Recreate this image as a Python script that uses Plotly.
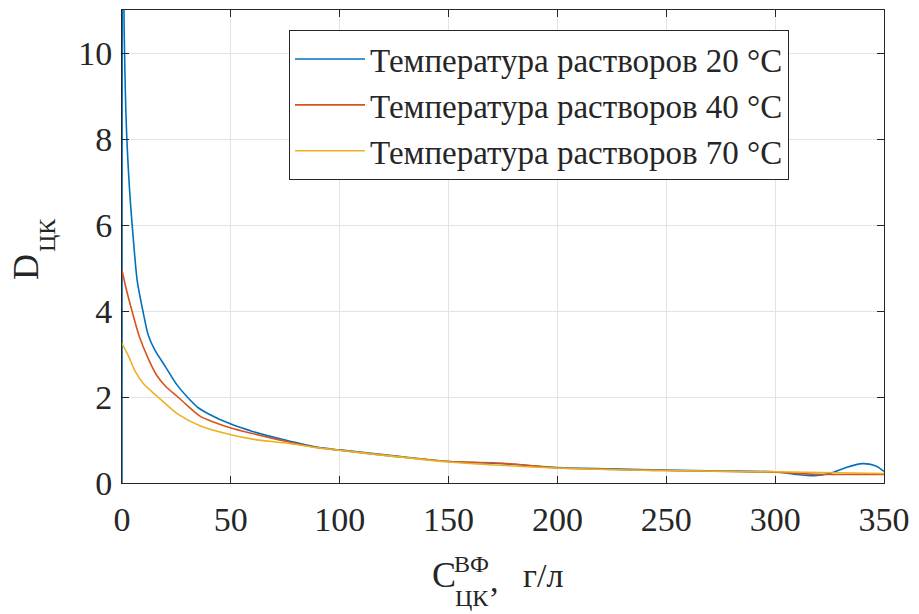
import plotly.graph_objects as go

# --- data ---
x_20 = [0, 0.3, 1, 2, 3.5, 5, 7, 9.6, 12, 15, 20, 25, 30, 35, 40, 50, 60, 75, 90, 100,
        125, 150, 175, 200, 225, 250, 275, 300, 310, 318, 325, 332, 340, 346, 350]
y_20 = [0, 14, 10.5, 8.3, 6.8, 5.8, 4.7, 4.0, 3.45, 3.1, 2.7, 2.3, 2.0, 1.75, 1.6, 1.37, 1.2,
        1.0, 0.83, 0.77, 0.63, 0.5, 0.45, 0.36, 0.33, 0.3, 0.28, 0.26, 0.2, 0.17, 0.22, 0.35,
        0.45, 0.4, 0.27]

x_40 = [0, 2, 4.6, 8, 12, 16, 20, 25.7, 30, 36, 42, 50, 60, 75, 90, 100, 125, 150, 170,
        185, 200, 250, 300, 320, 335, 350]
y_40 = [4.95, 4.5, 4.0, 3.4, 2.9, 2.5, 2.25, 2.0, 1.8, 1.55, 1.42, 1.28, 1.15, 0.97, 0.82,
        0.76, 0.62, 0.5, 0.47, 0.42, 0.35, 0.29, 0.25, 0.2, 0.2, 0.2]

x_70 = [0, 3, 6, 10, 16.5, 25.7, 35.8, 50, 60, 75, 90, 100, 125, 150, 200, 250, 300, 350]
y_70 = [3.25, 2.95, 2.6, 2.3, 2.0, 1.6, 1.33, 1.12, 1.02, 0.93, 0.82, 0.76, 0.62, 0.49,
        0.35, 0.29, 0.26, 0.22]

names = ["Температура растворов 20 °C", "Температура растворов 40 °C",
         "Температура растворов 70 °C"]
colors = ["#0072BD", "#D95319", "#EDB120"]

x_ticks = [0, 50, 100, 150, 200, 250, 300, 350]
y_ticks = [0, 2, 4, 6, 8, 10]

FONT = "Liberation Serif"
TXT = "#262626"

fig = go.Figure()
for xs, ys, nm, c in zip([x_20, x_40, x_70], [y_20, y_40, y_70], names, colors):
    fig.add_trace(go.Scatter(x=xs, y=ys, mode="lines", name=nm,
                             line=dict(color=c, width=1.6, shape="spline", smoothing=0.8)))

L, R, T, B = 122, 35, 10, 131
W, H = 919, 614
pw, ph = W - L - R, H - T - B

def px(xp):
    return (xp - L) / pw

def py(yp):
    return (H - B - yp) / ph

axis_common = dict(showline=True, linecolor=TXT, linewidth=1, mirror="ticks",
                   ticks="inside", ticklen=7, tickcolor=TXT, tickwidth=1,
                   showgrid=True, gridcolor="#e3e3e3", gridwidth=1, zeroline=False,
                   tickfont=dict(family=FONT, size=34, color=TXT))

fig.update_layout(
    width=W, height=H,
    margin=dict(l=L, r=R, t=T, b=B),
    paper_bgcolor="white", plot_bgcolor="white",
    font=dict(family=FONT, color=TXT),
    xaxis=dict(range=[0, 350], tickvals=x_ticks, ticklabelstandoff=6, **axis_common),
    yaxis=dict(range=[0, 11], tickvals=y_ticks, ticklabelstandoff=2, **axis_common),
    legend=dict(x=px(289), y=py(30), xanchor="left", yanchor="top",
                bgcolor="white", bordercolor=TXT, borderwidth=1,
                font=dict(family=FONT, size=33, color=TXT),
                tracegroupgap=0, itemwidth=70),
    showlegend=True,
)

# axis titles (C with stacked super/subscript; D with subscript)
ann = [
    ("C", 444, 575, 36, 0),
    ("ВФ", 471, 564, 24, 0),
    ("ЦК", 472, 598, 24, 0),
    (",", 494, 580, 34, 0),
    ("г/л", 543, 575, 34, 0),
    ("D", 26, 267, 36, -90),
    ("ЦК", 47, 235, 24, -90),
]
for t, xx, yy, s, ang in ann:
    fig.add_annotation(text=t, x=px(xx), y=py(yy), xref="paper", yref="paper",
                       xanchor="center", yanchor="middle", showarrow=False,
                       textangle=ang, font=dict(family=FONT, size=s, color=TXT))

fig.write_html("out.html")
